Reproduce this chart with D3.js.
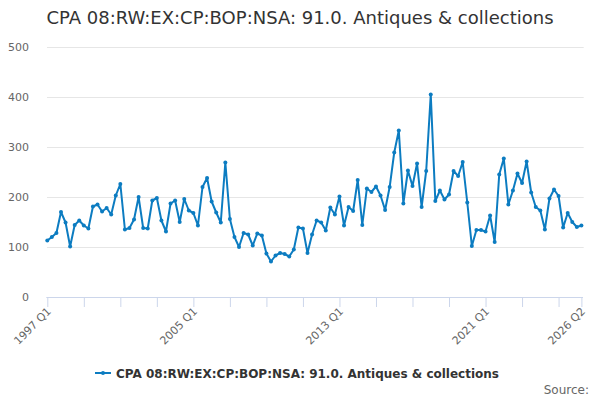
<!DOCTYPE html>
<html>
<head>
<meta charset="utf-8">
<script src="https://cdn.jsdelivr.net/npm/d3@7"></script>
<style>
  body { margin: 0; background: #fff; }
  svg { display: block; font-family: "DejaVu Sans", sans-serif; }
</style>
</head>
<body>
<svg id="chart" width="600" height="400"></svg>
<script>
const title = 'CPA 08:RW:EX:CP:BOP:NSA: 91.0. Antiques & collections';
const startYear = 1997;
// quarterly values, 1997 Q1 .. 2026 Q2
const values = [
  113, 120, 128, 170, 149, 101, 144, 153, 143, 137, 181, 185, 171, 178, 165, 203,
  226, 135, 138, 155, 200, 138, 137, 193, 198, 153, 131, 187, 193, 150, 196, 173,
  168, 143, 220, 238, 191, 169, 149, 269, 156, 120, 100, 128, 125, 103, 127, 123,
  87, 71, 83, 88, 86, 81, 95, 139, 137, 88, 125, 153, 149, 133, 179, 165,
  201, 143, 180, 172, 234, 144, 217, 210, 221, 203, 174, 220, 289, 333, 187, 253,
  222, 267, 180, 252, 405, 192, 213, 195, 205, 252, 242, 270, 189, 102, 134, 134,
  131, 163, 110, 245, 277, 185, 213, 247, 228, 271, 209, 180, 173, 135, 197, 215,
  202, 139, 168, 150, 140, 143
];
const quarters = values.map((v, i) => `${startYear + Math.floor(i / 4)} Q${i % 4 + 1}`);
const yTicks = [0, 100, 200, 300, 400, 500];
const xTickLabels = ['1997 Q1', '2005 Q1', '2013 Q1', '2021 Q1', '2026 Q2'];

const svg = d3.select('#chart');
const W = 600, H = 400;
const plot = {left: 47.3, right: 581.4, top: 47, bottom: 297, gridRight: 584};

const x = d3.scaleLinear()
  .domain([0, values.length - 1])
  .range([plot.left, plot.right]);
const y = d3.scaleLinear()
  .domain([0, 500])
  .range([plot.bottom, plot.top]);

svg.append('text')
  .attr('x', 300)
  .attr('y', 24)
  .attr('text-anchor', 'middle')
  .attr('font-size', 18)
  .attr('fill', '#333')
  .text(title);

// grid + y labels
const yAxis = svg.append('g')
  .attr('transform', `translate(${plot.left - 0.3},0)`)
  .call(d3.axisLeft(y).tickValues(yTicks).tickSize(-(plot.gridRight - plot.left)).tickPadding(18))
  ;
yAxis.select('.domain').remove();
yAxis.selectAll('line').attr('stroke', '#e6e6e6');
yAxis.selectAll('text')
  .attr('fill', '#666')
  .attr('font-size', 11)
  .attr('font-family', '"DejaVu Sans", sans-serif');
yAxis.selectAll('.tick').filter(d => d === 0).select('line').remove();

// x axis: minor ticks every 8 quarters, labels at selected quarters
const tickIdx = d3.range(0, values.length, 8).concat([values.length - 1]);
const labelIdx = xTickLabels.map(l => quarters.indexOf(l));
const xAxis = svg.append('g')
  .attr('transform', `translate(0,${y(0)})`)
  .call(d3.axisBottom(x).tickValues(tickIdx).tickSize(10).tickSizeOuter(0)
    .tickFormat(i => labelIdx.includes(i) ? quarters[i] : ''))
  ;
xAxis.select('.domain')
  .attr('stroke', '#ccd6eb')
  .attr('d', `M${plot.left - 1},0.5H${plot.gridRight - 1}`);
xAxis.selectAll('line').attr('stroke', '#ccd6eb');
xAxis.selectAll('text')
  .attr('fill', '#666')
  .attr('font-size', 11)
  .attr('font-family', '"DejaVu Sans", sans-serif')
  .attr('text-anchor', 'end')
  .attr('dy', null)
  .attr('y', 0)
  .attr('transform', 'translate(4,15) rotate(-45)');

// series
const color = '#0c7cc1';
const line = d3.line()
  .x((d, i) => x(i))
  .y(d => y(d));
svg.append('path')
  .datum(values)
  .attr('fill', 'none')
  .attr('stroke', color)
  .attr('stroke-width', 2)
  .attr('stroke-linejoin', 'round')
  .attr('d', line);
svg.append('g')
  .selectAll('circle')
  .data(values)
  .join('circle')
    .attr('cx', (d, i) => x(i))
    .attr('cy', d => y(d))
    .attr('r', 2)
    .attr('fill', color);

// legend
const legend = svg.append('g').attr('transform', 'translate(95,373)');
legend.append('line')
  .attr('x1', 0).attr('x2', 16)
  .attr('y1', 0).attr('y2', 0)
  .attr('stroke', color)
  .attr('stroke-width', 2);
legend.append('circle')
  .attr('cx', 8).attr('cy', 0).attr('r', 2)
  .attr('fill', color);
legend.append('text')
  .attr('x', 21)
  .attr('y', 4.5)
  .attr('font-size', 12)
  .attr('font-weight', 'bold')
  .attr('fill', '#333')
  .text(title);

svg.append('text')
  .attr('x', 589)
  .attr('y', 394)
  .attr('text-anchor', 'end')
  .attr('font-size', 12)
  .attr('fill', '#666')
  .text('Source:');
</script>
</body>
</html>
